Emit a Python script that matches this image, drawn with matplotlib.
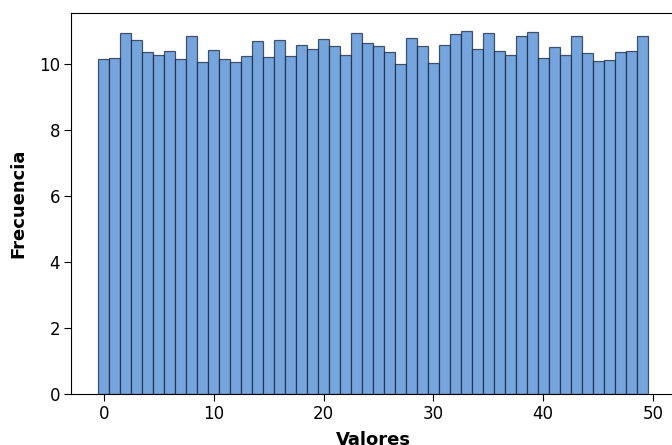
import matplotlib.pyplot as plt
import numpy as np

# Valores (centro de cada barra) y frecuencias
valores = np.arange(50)
frecuencias = [10.17, 10.2, 10.95, 10.74, 10.38, 10.28, 10.4, 10.16, 10.87, 10.06,
               10.44, 10.17, 10.06, 10.27, 10.71, 10.22, 10.75, 10.25, 10.59, 10.48,
               10.76, 10.56, 10.29, 10.95, 10.65, 10.56, 10.38, 10.01, 10.8, 10.57,
               10.03, 10.6, 10.91, 11.01, 10.46, 10.94, 10.4, 10.29, 10.86, 10.97,
               10.2, 10.53, 10.3, 10.86, 10.35, 10.09, 10.12, 10.38, 10.41, 10.87]

fig = plt.figure(figsize=(6.72, 4.45), dpi=100)
# the original picture is cropped on the right, so the axes run past the edge
ax = fig.add_axes([71 / 672, 1 - 394 / 445, 604 / 672, 381 / 445])

ax.bar(valores, frecuencias, width=1.0, color='#75a5dc',
       edgecolor=(0.05, 0.1, 0.2, 0.7), linewidth=0.9)

ax.set_xlim(-3, 52)
ax.set_ylim(0, 11.56)
ax.set_xticks([0, 10, 20, 30, 40, 50])
ax.set_yticks([0, 2, 4, 6, 8, 10])
ax.tick_params(labelsize=12, length=5, pad=3)

ax.set_xlabel('Valores', fontsize=13, fontweight='bold', labelpad=6)
ax.set_ylabel('Frecuencia', fontsize=13, fontweight='bold', labelpad=8)

fig.savefig('out.png', dpi=100)
